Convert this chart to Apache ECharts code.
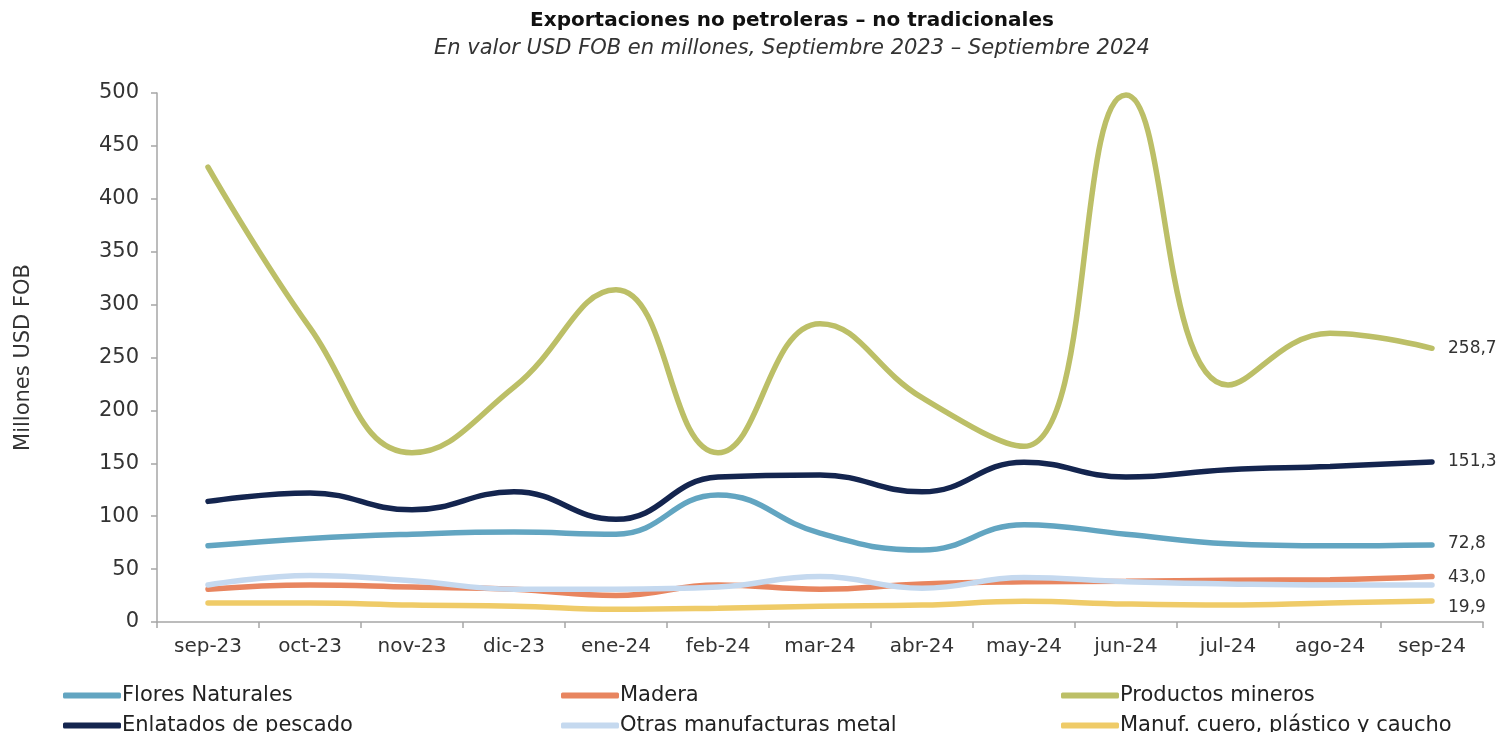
<!DOCTYPE html>
<html>
<head>
<meta charset="utf-8">
<script src="https://cdn.jsdelivr.net/npm/echarts@6/dist/echarts.min.js"></script>
<style>
  html, body { margin: 0; padding: 0; background: #fff; }
  #chart { width: 1501px; height: 732px; }
</style>
</head>
<body>
<div id="chart"></div>
<script>
// categorías (meses)
var months = ["sep-23", "oct-23", "nov-23", "dic-23", "ene-24", "feb-24", "mar-24",
  "abr-24", "may-24", "jun-24", "jul-24", "ago-24", "sep-24"];

// valores (millones USD FOB)
var flores = [72, 79, 83, 85, 83, 120, 84, 68, 92, 83, 74, 72, 72.8];
var madera = [31, 35, 33, 31, 25, 35, 31, 36, 38, 38.5, 39.5, 40, 43.0];
var mineros = [430, 278, 160, 222, 314, 160, 282, 212, 166, 498, 224, 273, 258.7];
var pescado = [114, 122, 106, 123, 97, 137, 139, 123, 151, 137, 144, 147, 151.3];
var otras = [35, 44, 39, 31, 31, 33, 43, 32, 42, 38, 36, 35, 35];
var cuero = [18, 18, 16, 15, 12, 13, 15, 16, 19.5, 17, 16, 18, 19.9];

var yTicks = [0, 50, 100, 150, 200, 250, 300, 350, 400, 450, 500];

var FONT = "DejaVu Sans";
var names = ["Flores Naturales", "Madera", "Productos mineros",
  "Enlatados de pescado", "Otras manufacturas metal", "Manuf. cuero, plástico y caucho"];
var colors = ["#62a5c1", "#e8855f", "#bcbf67", "#14254f", "#c5d9ef", "#efcb68"];
var values = [flores, madera, mineros, pescado, otras, cuero];
// desplazamiento de la etiqueta final (null = sin etiqueta)
var endOffsets = [[0, -1], [0, 1], [0, 0], [0, 0], null, [0, 7]];

let myChart = echarts.init(document.getElementById("chart"));

var legendPos = [[58, 680], [556, 680], [1056, 680], [58, 710], [556, 710], [1056, 710]];

myChart.setOption({
  animation: false,
  title: [
    {
      text: "Exportaciones no petroleras – no tradicionales",
      left: 787,
      textAlign: "center",
      top: 6,
      textStyle: { fontFamily: FONT, fontSize: 20, fontWeight: "bold", color: "#111" },
    },
    {
      text: "En valor USD FOB en millones, Septiembre 2023 – Septiembre 2024",
      left: 787,
      textAlign: "center",
      top: 33,
      textStyle: { fontFamily: FONT, fontSize: 21, fontStyle: "italic", fontWeight: "normal", color: "#333" },
    },
  ],
  legend: names.map(function (n, i) {
    return {
      left: legendPos[i][0],
      top: legendPos[i][1],
      data: [n],
      icon: "roundRect",
      itemWidth: 58,
      itemHeight: 6,
      itemGap: 0,
      textStyle: { fontFamily: FONT, fontSize: 21, color: "#222", padding: [0, 0, 0, -4] },
    };
  }),
  grid: { left: 157, right: 18, top: 93, bottom: 110, containLabel: false },
  xAxis: {
    type: "category",
    data: months,
    boundaryGap: true,
    axisLine: { lineStyle: { color: "#a6a6a6", width: 1.5 } },
    axisTick: { show: true, length: 6, lineStyle: { color: "#a6a6a6", width: 1.5 } },
    axisLabel: { fontFamily: FONT, fontSize: 20, color: "#333", margin: 15 },
  },
  yAxis: {
    type: "value",
    min: 0,
    max: 500,
    interval: 50,
    name: "Millones USD FOB",
    nameLocation: "middle",
    nameGap: 123,
    nameTextStyle: { fontFamily: FONT, fontSize: 21, color: "#333" },
    splitLine: { show: false },
    axisLine: { show: true, lineStyle: { color: "#a6a6a6", width: 1.5 } },
    axisTick: { show: true, length: 6, lineStyle: { color: "#a6a6a6", width: 1.5 } },
    axisLabel: {
      fontFamily: FONT, fontSize: 21, color: "#333", margin: 18,
      formatter: function (v) { return yTicks.indexOf(v) >= 0 ? String(v) : ""; },
    },
  },
  series: names.map(function (n, i) {
    var s = {
      name: n,
      type: "line",
      smooth: 0.45,
      symbol: "none",
      data: values[i],
      lineStyle: { color: colors[i], width: 5.5, cap: "round" },
      itemStyle: { color: colors[i] },
    };
    if (endOffsets[i]) {
      s.endLabel = {
        show: true,
        distance: 16,
        offset: endOffsets[i],
        fontFamily: FONT,
        fontSize: 17,
        color: "#333",
        formatter: function (p) {
          var v = Array.isArray(p.value) ? p.value[1] : p.value;
          return Number(v).toFixed(1).replace(".", ",");
        },
      };
    }
    return s;
  }),
});
</script>
</body>
</html>
